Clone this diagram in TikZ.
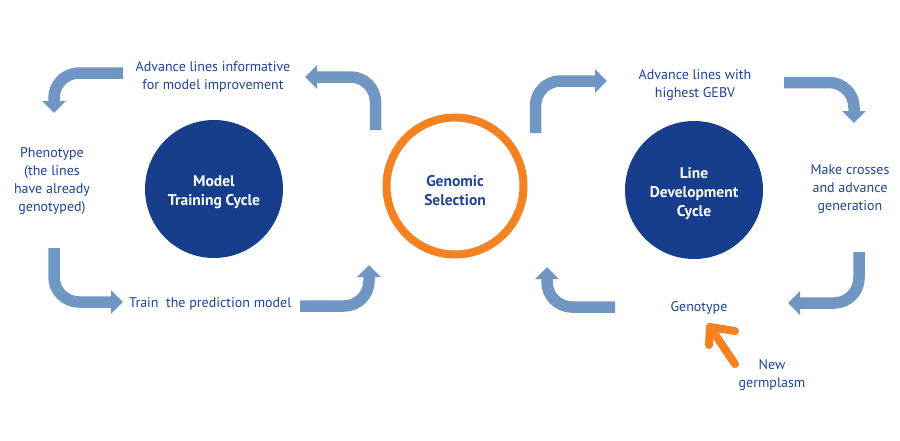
\documentclass[tikz,border=0pt]{standalone}
\usepackage{fontspec}
\setmainfont{PT Sans}
\usetikzlibrary{arrows.meta}
\definecolor{circblue}{HTML}{173E8C}
\definecolor{txtblue}{HTML}{1F4496}
\definecolor{arrowblue}{HTML}{7097C3}
\definecolor{gsorange}{HTML}{F58220}
\tikzset{
  flow/.style={draw=arrowblue, line width=11.5pt, rounded corners=25pt,
    -{Triangle[length=12pt,width=23pt]}},
  label/.style={text=txtblue, align=center, inner sep=0pt,
    font=\fontsize{14}{18}\selectfont},
  cyclebox/.style={circle, fill=circblue, minimum size=138pt, inner sep=0pt},
  gsbox/.style={circle, draw=gsorange, line width=8pt, fill=white,
    minimum size=137pt, inner sep=0pt},
  circtext/.style={align=center, inner sep=0pt,
    font=\fontsize{15.5}{19}\selectfont\bfseries},
  orangeline/.style={draw=gsorange, line width=8pt, line cap=round, line join=round}
}
\begin{document}
\begin{tikzpicture}[x=1pt, y=-1pt]
\useasboundingbox (0,0) rectangle (900,440);
\fill[white] (0,0) rectangle (900,440);

% circles
\node[cyclebox] (mtc) at (214,189) {};
\node[circtext, text=white] (mtct) at ([yshift=-3pt]mtc.center) {Model\\Training Cycle};
\node[gsbox] (gs) at (455,186) {};
\node[circtext, text=txtblue] (gst) at ([yshift=-5pt]gs.center) {Genomic\\Selection};
\node[cyclebox] (ldc) at (694,190) {};
\node[circtext, text=white] (ldct) at ([yshift=-4pt]ldc.center) {Line\\Development\\Cycle};

% labels
\node[label] (adv1) at (213,77) {Advance lines informative\\for model improvement};
\node[label] (pheno) at (52,181) {Phenotype\\(the lines\\have already\\genotyped)};
\node[label, anchor=west] (train) at (129,304) {Train\ \ the prediction model};
\node[label] (adv2) at (695,85) {Advance lines with\\highest GEBV};
\node[label] (cross) at (850,189) {Make crosses\\and advance\\generation};
\node[label] (geno) at (699,308) {Genotype};
\node[label] (germ) at (772,375) {New\\germplasm};

% arrow end points
\coordinate (a1s) at (123,73);  \coordinate (a1e) at (54,113);
\coordinate (a2s) at (375.5,130); \coordinate (a2e) at (305,77);
\coordinate (a3s) at (54,248);  \coordinate (a3e) at (123,302);
\coordinate (a4s) at (300,306); \coordinate (a4e) at (369,265);
\coordinate (a5s) at (535.5,133); \coordinate (a5e) at (607,81);
\coordinate (a6s) at (784,82.5);  \coordinate (a6e) at (854,123);
\coordinate (a7s) at (859,252); \coordinate (a7e) at (788,303);
\coordinate (a8s) at (615,307); \coordinate (a8e) at (547,267);

\draw[flow] (a1s) -| (a1e);
\draw[flow] (a2s) |- (a2e);
\draw[flow] (a3s) |- (a3e);
\draw[flow] (a4s) -| (a4e);
\draw[flow] (a5s) |- (a5e);
\draw[flow] (a6s) -| (a6e);
\draw[flow] (a7s) |- (a7e);
\draw[flow] (a8s) -| (a8e);

% orange arrow
\coordinate (otip) at (710,327);
\coordinate (ostart) at (735,364);
\coordinate (oarmA) at (709,345);
\coordinate (oarmB) at (735,331);
\draw[orangeline] (ostart) -- (otip);
\draw[orangeline] (oarmA) -- (otip) -- (oarmB);
\end{tikzpicture}
\end{document}
